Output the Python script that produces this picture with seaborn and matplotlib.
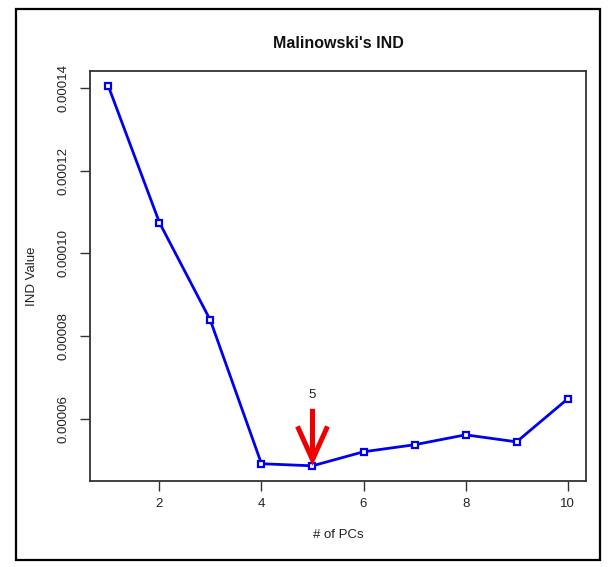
import matplotlib
matplotlib.use("Agg")
import matplotlib.pyplot as plt
import seaborn as sns
import pandas as pd
from matplotlib.patches import Rectangle

n_pcs = [1, 2, 3, 4, 5, 6, 7, 8, 9, 10]
ind_values = [0.0001405, 0.0001075, 0.0000838, 0.0000491, 0.0000486,
              0.0000520, 0.0000537, 0.0000561, 0.0000544, 0.0000648]
x_ticks = [2, 4, 6, 8, 10]
y_ticks = [0.00006, 0.00008, 0.00010, 0.00012, 0.00014]
y_tick_labels = ["0.00006", "0.00008", "0.00010", "0.00012", "0.00014"]
best_pc = 5

df = pd.DataFrame({"pcs": n_pcs, "ind": ind_values})

sns.set_theme(style="white")
plt.rcParams["font.family"] = ["Liberation Sans", "DejaVu Sans"]

W, H = 613, 567
fig = plt.figure(figsize=(W / 100, H / 100), dpi=100)
ax = fig.add_axes([90 / W, 1 - 481 / H, (586 - 90) / W, (481 - 71) / H])

sns.lineplot(data=df, x="pcs", y="ind", ax=ax, color="#0000ee", linewidth=2,
             marker="s", markersize=4.5, markerfacecolor="white",
             markeredgecolor="#0000ee", markeredgewidth=1.6)

xr = max(n_pcs) - min(n_pcs)
ax.set_xlim(min(n_pcs) - 0.04 * xr, max(n_pcs) + 0.04 * xr)
yr = max(ind_values) - min(ind_values)
ax.set_ylim(min(ind_values) - 0.04 * yr, max(ind_values) + 0.04 * yr)

ax.set_xticks(x_ticks)
ax.set_xticklabels([str(t) for t in x_ticks], fontsize=9.5, color="#222222")
ax.set_yticks(y_ticks)
ax.set_yticklabels(y_tick_labels, rotation=90, va="center", fontsize=9.5, color="#222222")
ax.tick_params(axis="x", which="both", direction="out", length=7, width=1,
               color="#333333", bottom=True, pad=5)
ax.tick_params(axis="y", which="both", direction="out", length=7, width=1,
               color="#333333", left=True, pad=8)
for s in ax.spines.values():
    s.set_visible(True)
    s.set_color("#333333")
    s.set_linewidth(1.3)

ax.set_xlabel("# of PCs", fontsize=9.5, labelpad=14, color="#222222")
ax.set_ylabel("IND Value", fontsize=9.5, labelpad=14, color="#222222")
fig.text(338 / W, 1 - 43 / H, "Malinowski's IND", ha="center", va="center",
         fontsize=11.5, fontweight="bold", color="#111111")

best_val = ind_values[n_pcs.index(best_pc)]
ax.annotate("", xy=(best_pc, best_val), xytext=(best_pc, best_val + 0.0000138),
            arrowprops=dict(arrowstyle="->,head_length=2.0,head_width=0.9",
                            color="#ee0000", lw=3.6, shrinkA=0, shrinkB=0,
                            capstyle="butt", joinstyle="miter"))
ax.text(best_pc, best_val + 0.0000158, str(best_pc), ha="center", va="bottom",
        fontsize=9.5, color="#222222")

fig.patches.append(Rectangle((16 / W, 1 - 560 / H), (600 - 16) / W, (560 - 9) / H,
                             transform=fig.transFigure, fill=False,
                             edgecolor="black", linewidth=1.6))

fig.savefig("out.png", dpi=100, facecolor="white")
